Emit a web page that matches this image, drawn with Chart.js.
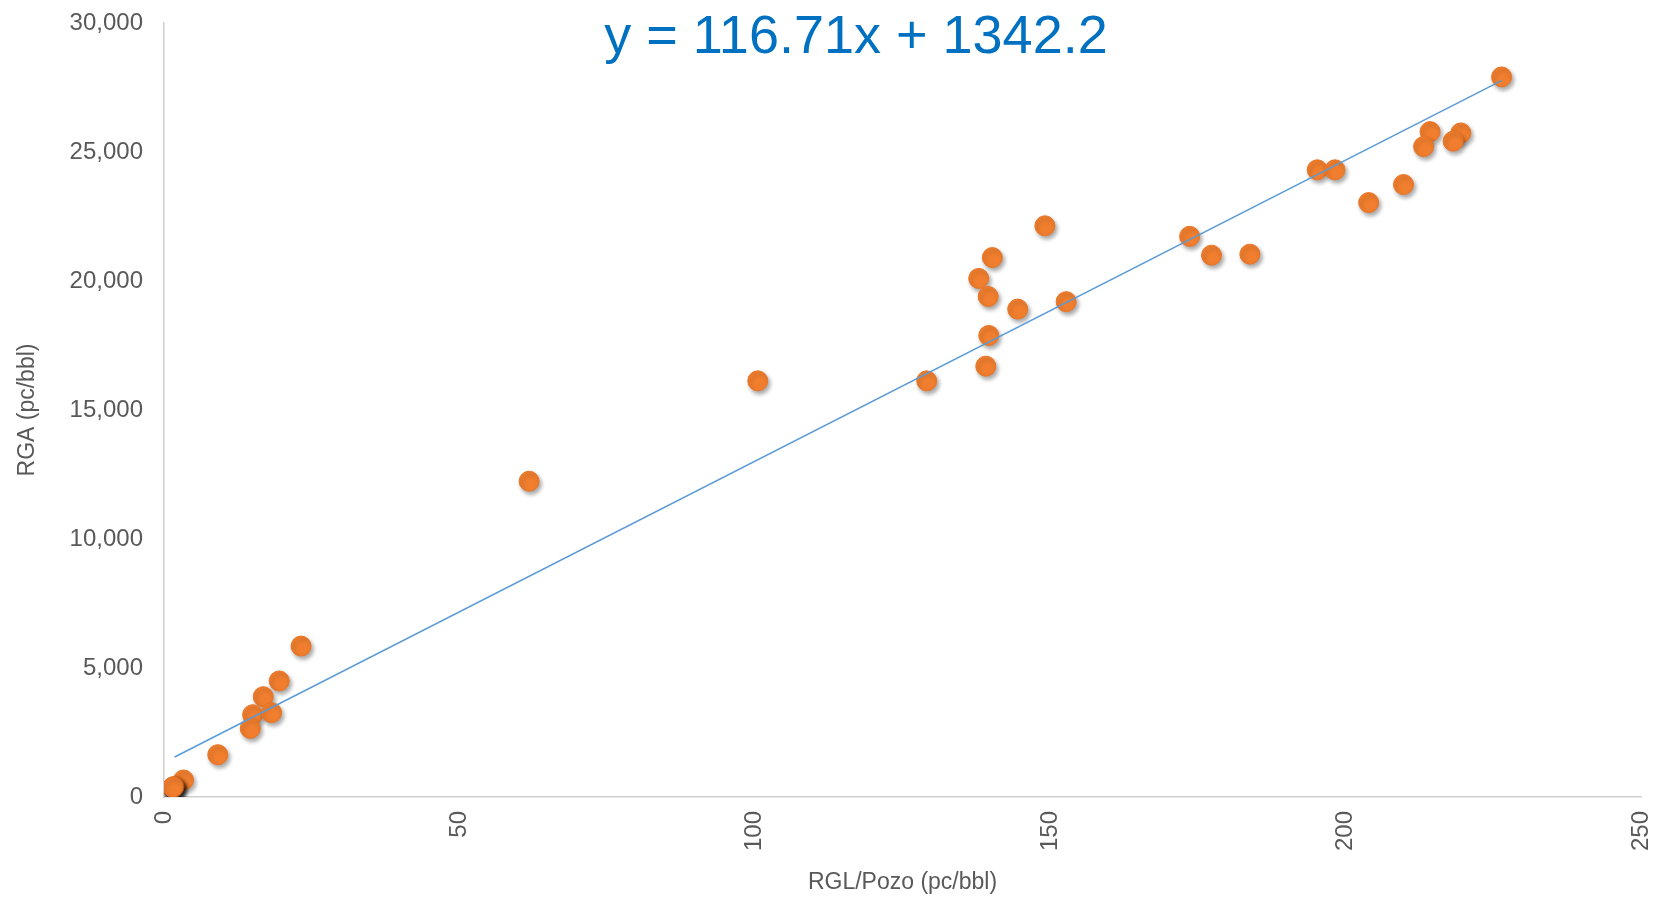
<!DOCTYPE html>
<html>
<head>
<meta charset="utf-8">
<script src="https://cdn.jsdelivr.net/npm/chart.js@4.4.1/dist/chart.umd.min.js"></script>
<style>
  html, body { margin: 0; padding: 0; background: #fff; }
  #wrap { width: 1655px; height: 898px; position: relative; }
</style>
</head>
<body>
<div id="wrap"><canvas id="rgaChart"></canvas></div>
<script>
// RGL/Pozo (pc/bbl) vs RGA (pc/bbl)
const rglValues = [
    226.4, 214.3, 213.2, 219.5, 218.2, 195.2, 198.2, 203.9, 209.8,
    173.6, 177.3, 183.8, 149.1, 140.2, 137.9, 139.5, 144.5, 152.7,
    139.6, 139.1, 129.1, 100.5, 61.8, 23.2, 19.5, 16.8, 15.0, 18.2,
    14.6, 9.1, 3.3, 1.6, 1.5, 1.7, 1.6, 1.5
];
const rgaValues = [
    27910, 25790, 25210, 25740, 25420, 24310, 24310, 23040, 23740,
    21730, 21000, 21040, 22140, 20910, 20100, 19400, 18910, 19200,
    17890, 16700, 16130, 16130, 12240, 5850, 4500, 3890, 3190, 3270,
    2660, 1640, 660, 390, 360, 400, 370, 390
];

// trend line end points: y = 116.71x + 1342.2
const trendX = [1.8, 226.4];
const trendY = [1552, 27766];

const equationText = "y = 116.71x + 1342.2";
const xTitle = "RGL/Pozo (pc/bbl)";
const yTitle = "RGA (pc/bbl)";

const scatterData = rglValues.map((x, i) => ({ x: x, y: rgaValues[i] }));
const trendData = trendX.map((x, i) => ({ x: x, y: trendY[i] }));

// soft drop shadow under the markers
const markerShadow = {
    id: "markerShadow",
    beforeDatasetDraw(chart, args) {
        if (args.index !== 1) return;
        const ctx = chart.ctx;
        ctx.save();
        ctx.shadowColor = "rgba(0, 0, 0, 0.35)";
        ctx.shadowBlur = 4;
        ctx.shadowOffsetX = 2;
        ctx.shadowOffsetY = 3;
    },
    afterDatasetDraw(chart, args) {
        if (args.index !== 1) return;
        chart.ctx.restore();
    },
};

// equation label sits inside the plot, top middle
const equationLabel = {
    id: "equationLabel",
    afterDraw(chart) {
        const ctx = chart.ctx;
        ctx.save();
        ctx.font = '54px "Liberation Sans", Arial, sans-serif';
        ctx.fillStyle = "#0070C0";
        ctx.textAlign = "center";
        ctx.textBaseline = "alphabetic";
        ctx.fillText(equationText, 856, 53);
        ctx.restore();
    },
};

const tickFont = { family: '"Liberation Sans", Arial, sans-serif', size: 24 };
const titleFont = { family: '"Liberation Sans", Arial, sans-serif', size: 23 };

new Chart(document.getElementById("rgaChart").getContext("2d"), {
    type: "scatter",
    data: {
        datasets: [
            {
                type: "line",
                label: "Tendencia",
                data: trendData,
                borderColor: "#5B9BD5",
                borderWidth: 1.5,
                pointRadius: 0,
                fill: false,
                order: 0,
            },
            {
                label: "Pozos",
                data: scatterData,
                backgroundColor: "#F07E2E",
                borderColor: "#EC7424",
                borderWidth: 1,
                pointRadius: 10,
                order: 1,
            },
        ],
    },
    options: {
        responsive: true,
        maintainAspectRatio: false,
        animation: false,
        layout: {
            padding: { top: 23, right: 14, bottom: 0, left: 0 },
        },
        plugins: {
            legend: { display: false },
            tooltip: { enabled: false },
        },
        scales: {
            x: {
                type: "linear",
                min: 0,
                max: 250,
                grid: { display: false, drawTicks: false },
                border: { display: true, color: "#D0D0D0", width: 1.5 },
                ticks: {
                    stepSize: 50,
                    minRotation: 90,
                    maxRotation: 90,
                    padding: 14,
                    color: "#595959",
                    font: tickFont,
                },
                title: {
                    display: true,
                    text: xTitle,
                    color: "#595959",
                    font: titleFont,
                    padding: { top: 0, bottom: 2 },
                },
                afterFit(scale) {
                    scale.height = 101;
                    scale.paddingLeft = 0;
                    scale.paddingRight = 0;
                },
            },
            y: {
                type: "linear",
                min: 0,
                max: 30000,
                grid: { display: false, drawTicks: false },
                border: { display: true, color: "#D0D0D0", width: 1.5 },
                ticks: {
                    stepSize: 5000,
                    padding: 21,
                    color: "#595959",
                    font: tickFont,
                    callback: (v) => v.toLocaleString("en-US"),
                },
                title: {
                    display: true,
                    text: yTitle,
                    color: "#595959",
                    font: titleFont,
                    padding: { top: 14, bottom: 0 },
                },
                afterFit(scale) {
                    scale.width = 164;
                    scale.paddingTop = 0;
                    scale.paddingBottom = 0;
                },
            },
        },
    },
    plugins: [markerShadow, equationLabel],
});
</script>
</body>
</html>
